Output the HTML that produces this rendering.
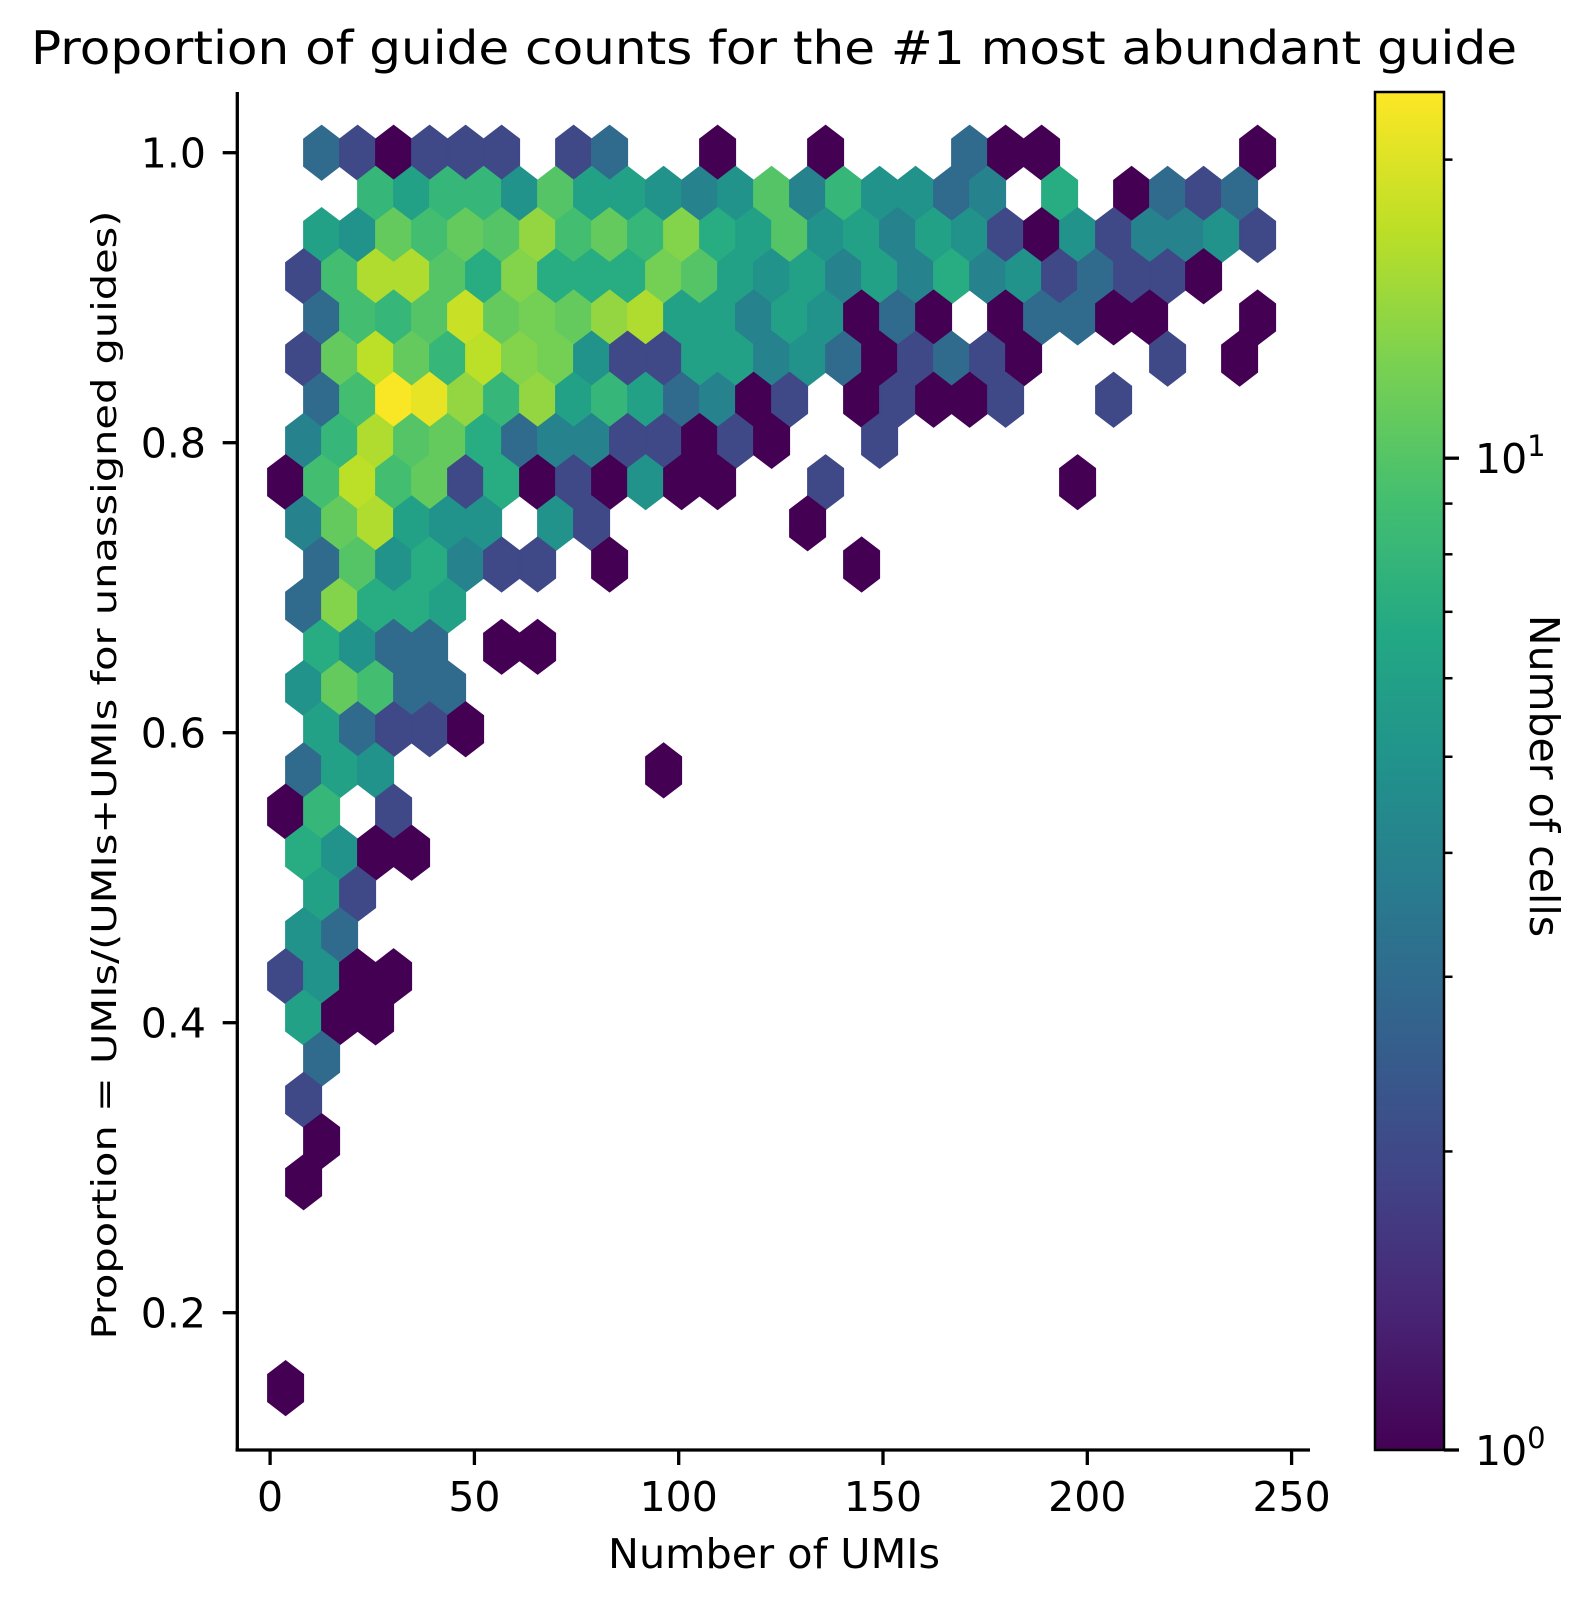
<!DOCTYPE html>
<html><head><meta charset="utf-8"><style>
html,body{margin:0;padding:0;background:#fff;}
svg{display:block;font-family:"DejaVu Sans","Liberation Sans",sans-serif;}
</style></head><body>
<svg id="chart" width="1590" height="1606" viewBox="0 0 1590 1606" xmlns="http://www.w3.org/2000/svg">
<defs>
<linearGradient id="vir" x1="0" y1="1" x2="0" y2="0">
<stop offset="0" stop-color="#440154"/><stop offset="0.1" stop-color="#482475"/><stop offset="0.2" stop-color="#414487"/><stop offset="0.3" stop-color="#355f8d"/><stop offset="0.4" stop-color="#2a788e"/><stop offset="0.5" stop-color="#21918c"/><stop offset="0.6" stop-color="#22a884"/><stop offset="0.7" stop-color="#44bf70"/><stop offset="0.8" stop-color="#7ad151"/><stop offset="0.9" stop-color="#bddf26"/><stop offset="1" stop-color="#fde725"/>
</linearGradient>
</defs>
<text x="774" y="64" font-size="46" text-anchor="middle" textLength="1486" lengthAdjust="spacingAndGlyphs">Proportion of guide counts for the #1 most abundant guide</text>
<g id="hexes"></g>
<g id="axes"></g>
<rect x="1375" y="92" width="69" height="1358" fill="url(#vir)" stroke="#000" stroke-width="2.5"/>
<g id="cbar"></g>
<text x="774" y="1568" font-size="41" text-anchor="middle" textLength="332" lengthAdjust="spacingAndGlyphs">Number of UMIs</text>
<text transform="translate(116,775) rotate(-90)" font-size="34" text-anchor="middle" textLength="1129" lengthAdjust="spacingAndGlyphs">Proportion = UMIs/(UMIs+UMIs for unassigned guides)</text>
<text transform="translate(1530,776) rotate(90)" font-size="41" text-anchor="middle">Number of cells</text>
</svg>
<script>
// hexbin grid (data units)
const xMin = 3.8, binW = 8.81, yTop = 1.0, rowStep = 0.0284;
const vmax = 23.4;
const xTicks = [0, 50, 100, 150, 200, 250];
const yTicks = [0.2, 0.4, 0.6, 0.8, 1.0];
const yTickLabels = ["0.2", "0.4", "0.6", "0.8", "1.0"];
// counts per row (row 0 = top, y=1.0); index = column
const row0 = [0,3,2,1,2,2,2,0,2,3,0,0,1,0,0,1,0,0,0,3,1,1,0,0,0,0,0,1];
const row1 = [0,0,8,6,8,8,5,10,6,6,5,4,5,10,4,8,5,5,3,4,0,7,0,1,3,2,3];
const row2 = [0,6,5,11,9,11,10,14,9,11,8,13,7,6,10,5,6,4,6,5,2,1,5,2,4,4,5,2];
const row3 = [2,9,16,16,10,7,13,7,7,7,12,10,6,5,6,4,6,4,7,4,5,2,3,2,2,1];
const row4 = [0,3,9,8,10,18,11,12,11,14,16,6,6,4,6,5,1,3,1,0,1,3,3,1,1,0,0,1];
const row5 = [2,11,17,11,8,17,13,12,5,2,2,6,6,4,5,3,1,2,3,2,1,0,0,0,2,0,1];
const row6 = [0,3,9,23,21,14,8,14,6,8,6,3,4,1,2,0,1,2,1,1,2,0,0,2];
const row7 = [4,8,16,10,11,7,3,4,4,2,2,1,2,1,0,0,2];
const row8 = [1,9,17,9,11,2,7,1,2,1,5,1,1,0,0,2,0,0,0,0,0,0,1];
const row9 = [4,11,16,6,5,5,0,5,2,0,0,0,0,0,1];
const row10 = [0,3,10,5,7,4,2,2,0,1,0,0,0,0,0,0,1];
const row11 = [3,13,7,7,6];
const row12 = [0,7,5,3,3,0,1,1];
const row13 = [5,11,9,3,3];
const row14 = [0,6,3,2,2,1];
const row15 = [3,6,5,0,0,0,0,0,0,0,1];
const row16 = [1,8,0,2];
const row17 = [7,5,1,1];
const row18 = [0,6,2];
const row19 = [5,3];
const row20 = [2,5,1,1];
const row21 = [6,1,1];
const row22 = [0,3];
const row23 = [2];
const row24 = [0,1];
const row25 = [1];
const row30 = [1];
const rows = [row0,row1,row2,row3,row4,row5,row6,row7,row8,row9,row10,row11,row12,row13,row14,row15,row16,row17,row18,row19,row20,row21,row22,row23,row24,row25,[],[],[],[],row30];

const NS = "http://www.w3.org/2000/svg";
const X = v => 270.1 + v * 4.086;
const Y = v => 152.7 + (1 - v) * 1450;
const vir = ["#440154","#482475","#414487","#355f8d","#2a788e","#21918c","#22a884","#44bf70","#7ad151","#bddf26","#fde725"];
function hex2rgb(h){return [1,3,5].map(k=>parseInt(h.substr(k,2),16));}
function color(c){
  let t = Math.log10(c) / Math.log10(vmax); t = Math.max(0, Math.min(1, t));
  const p = t * 10, k = Math.min(9, Math.floor(p)), f = p - k;
  const a = hex2rgb(vir[k]), b = hex2rgb(vir[k+1]);
  return "rgb(" + a.map((v,j)=>Math.round(v+(b[j]-v)*f)).join(",") + ")";
}
function el(tag, attrs, parent){const e=document.createElementNS(NS,tag);for(const k in attrs)e.setAttribute(k,attrs[k]);parent.appendChild(e);return e;}

const hg = document.getElementById("hexes");
const hw = X(binW/2) - X(0), hh = Y(yTop - rowStep*2/3) - Y(yTop), hs = hh/2;
rows.forEach((row, r) => {
  row.forEach((c, i) => {
    if (!c) return;
    const xd = xMin + (i + (r % 2 ? 0.5 : 0)) * binW;
    const yd = yTop - r * rowStep;
    const cx = X(xd), cy = Y(yd);
    const pts = [[hw,-hs],[hw,hs],[0,hh],[-hw,hs],[-hw,-hs],[0,-hh]].map(p=>(cx+p[0]).toFixed(1)+","+(cy+p[1]).toFixed(1)).join(" ");
    const col = color(c);
    const p = el("polygon", {points: pts, fill: col, stroke: col, "stroke-width": 1}, hg);
    
    
  });
});

const ax = document.getElementById("axes");
const yl = el("line", {x1:237.3, y1:92, x2:237.3, y2:1451.5, stroke:"#000", "stroke-width":3.3}, ax);


const xl = el("line", {x1:235.6, y1:1450, x2:1310, y2:1450, stroke:"#000", "stroke-width":3.3}, ax);


xTicks.forEach(v => {
  const t = el("line", {x1:X(v), y1:1450, x2:X(v), y2:1465, stroke:"#000", "stroke-width":3.3}, ax);
  
  
  const l = el("text", {x:X(v), y:1511, "font-size":41, "text-anchor":"middle"}, ax);
  l.textContent = v;
  
  
});
yTicks.forEach((v, k) => {
  const t = el("line", {x1:222.7, y1:Y(v), x2:237.3, y2:Y(v), stroke:"#000", "stroke-width":3.3}, ax);
  
  
  const l = el("text", {x:206, y:Y(v)+15, "font-size":41, "text-anchor":"end"}, ax);
  l.textContent = yTickLabels[k];
  
  
});

// colorbar ticks (log scale)
const cb = document.getElementById("cbar");
const CY = v => 1450 - Math.log10(v) / Math.log10(vmax) * 1358;
const cbMinor = [2,3,4,5,6,7,8,9,20];
const cbMajor = [1,10];
const cbMajorLabels = ["0","1"];
cbMinor.forEach(v => {
  const t = el("line", {x1:1444, y1:CY(v), x2:1452.5, y2:CY(v), stroke:"#000", "stroke-width":2.5}, cb);
  
  
});
cbMajor.forEach((v, k) => {
  const t = el("line", {x1:1444, y1:CY(v), x2:1459, y2:CY(v), stroke:"#000", "stroke-width":3.3}, cb);
  
  
  const l = el("text", {x:1475, y:CY(v)+15, "font-size":41}, cb);
  l.textContent = "10";
  const s = el("tspan", {dy:-17, "font-size":29}, l);
  s.textContent = cbMajorLabels[k];
  
  
});
</script>
</body></html>
